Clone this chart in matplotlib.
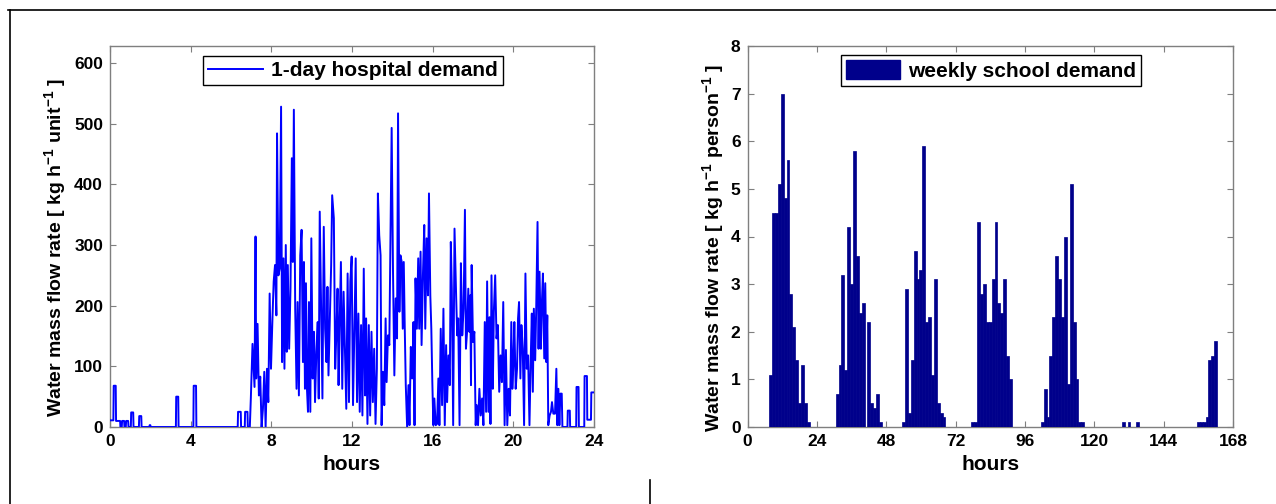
import matplotlib
matplotlib.use("Agg")
import matplotlib.pyplot as plt
from matplotlib.lines import Line2D
from matplotlib.patches import Patch
import numpy as np

plt.rcParams["font.family"] = ["Liberation Sans", "DejaVu Sans"]
plt.rcParams["font.weight"] = "bold"
plt.rcParams["mathtext.fontset"] = "custom"
plt.rcParams["mathtext.rm"] = "Liberation Sans:bold"
plt.rcParams["mathtext.bf"] = "Liberation Sans:bold"
plt.rcParams["mathtext.default"] = "bf"

# --- 1-day hospital demand, vertices (minutes, kg/h/unit) ---
hospital_min = [
    0, 10, 11, 17, 18, 30, 31, 35, 36, 42, 43, 47, 48, 54, 55, 62, 63, 69, 70, 86,
    87, 93, 94, 117, 118, 120, 121, 196, 197, 203, 204, 248, 249, 256, 257, 380,
    381, 389, 390, 401, 402, 409, 410, 416, 419, 424, 430, 433, 435, 439, 443, 447,
    451, 455, 459, 463, 467, 471, 475, 479, 483, 487, 491, 495, 497, 501, 505, 509,
    512, 516, 519, 523, 526, 529, 533, 537, 541, 544, 547, 551, 555, 558, 562, 566,
    570, 574, 577, 580, 583, 586, 589, 592, 596, 599, 603, 607, 610, 614, 618, 621,
    624, 628, 632, 636, 640, 644, 647, 650, 654, 658, 661, 666, 670, 674, 677, 680,
    683, 687, 691, 695, 699, 703, 707, 711, 715, 719, 723, 727, 731, 735, 739, 743,
    747, 751, 755, 759, 762, 766, 770, 774, 778, 782, 786, 790, 794, 797, 801, 805,
    808, 812, 816, 820, 823, 827, 831, 834, 838, 842, 846, 850, 854, 857, 861, 864,
    868, 871, 874, 877, 880, 884, 888, 891, 895, 899, 903, 906, 909, 913, 917, 920,
    924, 927, 931, 935, 938, 942, 946, 949, 953, 956, 959, 962, 965, 969, 973, 977,
    980, 984, 988, 992, 996, 1000, 1003, 1007, 1011, 1014, 1017, 1021, 1025, 1030,
    1033, 1036, 1040, 1044, 1048, 1052, 1056, 1059, 1062, 1066, 1069, 1072, 1074,
    1076, 1080, 1084, 1088, 1091, 1095, 1099, 1103, 1107, 1111, 1115, 1119, 1122,
    1126, 1129, 1132, 1135, 1139, 1142, 1146, 1150, 1154, 1158, 1162, 1166, 1170,
    1174, 1178, 1182, 1186, 1190, 1194, 1197, 1200, 1203, 1207, 1211, 1214, 1217,
    1221, 1224, 1228, 1232, 1236, 1240, 1244, 1248, 1252, 1255, 1258, 1261, 1265,
    1268, 1272, 1275, 1278, 1282, 1285, 1288, 1292, 1295, 1298, 1301, 1304, 1308,
    1312, 1315, 1319, 1324, 1328, 1331, 1334, 1337, 1340, 1344, 1346, 1361, 1362,
    1368, 1369, 1387, 1388, 1394, 1395, 1411, 1412, 1419, 1420, 1431, 1432, 1440,
]
hospital_flow = [
    11, 11, 68, 68, 10, 10, 0, 0, 10, 10, 0, 0, 10, 10, 0, 0, 24, 24, 0, 0,
    18, 18, 0, 0, 3, 3, 0, 0, 50, 50, 0, 0, 68, 68, 0, 0,
    25, 25, 0, 0, 25, 25, 0, 0, 47, 137, 66, 314, 80, 170, 52, 83,
    0, 30, 91, 0, 96, 41, 220, 96, 173, 240, 267, 184, 484, 250, 261, 528,
    107, 278, 96, 300, 124, 267, 129, 228, 443, 272, 523, 195, 63, 206, 52, 283,
    325, 107, 272, 63, 237, 63, 25, 206, 25, 311, 80, 157, 41, 124, 173, 47,
    355, 201, 47, 330, 162, 107, 231, 85, 173, 267, 382, 344, 96, 162, 228, 69,
    162, 272, 63, 223, 124, 30, 253, 41, 240, 281, 36, 162, 278, 41, 187, 25,
    168, 19, 261, 52, 179, 5, 168, 19, 157, 41, 129, 5, 96, 385, 316, 283,
    3, 91, 36, 179, 74, 151, 135, 292, 493, 256, 85, 212, 146, 517, 190, 283,
    272, 162, 272, 162, 69, 0, 69, 3, 132, 80, 173, 3, 245, 162, 278, 162,
    289, 135, 250, 333, 162, 311, 217, 385, 217, 162, 74, 3, 47, 3, 5, 80,
    3, 162, 36, 195, 3, 135, 41, 118, 69, 305, 228, 3, 327, 212,
    151, 179, 3, 270, 151, 195, 358, 129, 154, 228, 157, 217, 69,
    267, 140, 157, 3, 36, 3, 63, 19, 47, 3, 173, 25, 240,
    25, 181, 5, 250, 63, 190, 250, 146, 168, 58, 118, 74, 206,
    3, 127, 3, 63, 19, 173, 63, 102, 173, 63, 96, 179, 206,
    80, 168, 129, 3, 253, 96, 118, 3, 118, 187, 58, 195, 110,
    193, 338, 129, 256, 129, 206, 253, 113, 237, 107, 184, 3, 19,
    25, 41, 22, 22, 96, 3, 63, 3, 55, 55, 0, 0, 27,
    27, 0, 0, 66, 66, 0, 0, 84, 84, 12, 12, 57, 57,
]

# --- weekly school demand, hourly bars (hour, kg/h/person); other hours are zero ---
school_hour = [
    8, 9, 10, 11, 12, 13, 14, 15, 16, 17, 18, 19, 20, 21,
    31, 32, 33, 34, 35, 36, 37, 38, 39, 40, 42, 43, 44, 45, 46,
    54, 55, 56, 57, 58, 59, 60, 61, 62, 63, 64, 65, 66, 67, 68,
    78, 79, 80, 81, 82, 83, 84, 85, 86, 87, 88, 89, 90, 91,
    102, 103, 104, 105, 106, 107, 108, 109, 110, 111, 112, 113, 114, 115, 116,
    130, 132, 135, 156, 157, 158, 159, 160, 161, 162,
]
school_flow = [
    1.1, 4.5, 4.5, 5.1, 7.0, 4.8, 5.6, 2.8, 2.1, 1.4, 0.5, 1.3, 0.5, 0.1,
    0.7, 1.3, 3.2, 1.2, 4.2, 3.0, 5.8, 3.6, 2.4, 2.6, 2.2, 0.5, 0.4, 0.7, 0.1,
    0.1, 2.9, 0.3, 1.4, 3.7, 3.1, 3.3, 5.9, 2.2, 2.3, 1.1, 3.1, 0.5, 0.3, 0.2,
    0.1, 0.1, 4.3, 2.8, 3.0, 2.2, 2.2, 3.1, 4.3, 2.6, 2.4, 3.1, 1.5, 1.0,
    0.1, 0.8, 0.2, 1.5, 2.3, 3.6, 3.1, 2.3, 4.0, 0.9, 5.1, 2.2, 1.0, 0.1, 0.1,
    0.1, 0.1, 0.1, 0.1, 0.1, 0.1, 0.2, 1.4, 1.5, 1.8,
]

week_hours = np.arange(1, 169)
week_flow = np.zeros(168)
week_flow[np.array(school_hour) - 1] = school_flow

BLUE = "#0000FF"
NAVY = "#00008B"
GREY = "#7F7F7F"
LABEL_FS = 14
LEGEND_FS = 15


def style_axes(ax, label_x):
    for s in ax.spines.values():
        s.set_color(GREY)
        s.set_linewidth(1.0)
    ax.tick_params(direction="in", top=True, right=True, length=4, width=0.8,
                   color=GREY, labelcolor="black", labelsize=12.5, pad=5)
    ax.yaxis.set_label_coords(label_x, 0.47)


fig = plt.figure(figsize=(12.76, 5.04), dpi=100)

# left panel
ax1 = fig.add_axes([110 / 1276, 77 / 504, 484 / 1276, 381 / 504])
ax1.plot(np.array(hospital_min) / 60.0, hospital_flow, color=BLUE, lw=1.4,
         label="1-day hospital demand", zorder=3)
ax1.set_xlim(0, 24)
ax1.set_ylim(0, 628)
ax1.set_xticks(range(0, 25, 4))
ax1.set_yticks(range(0, 601, 100))
ax1.set_xlabel("hours", fontsize=LEGEND_FS, fontweight="bold", labelpad=4)
ax1.set_ylabel("Water mass flow rate [ kg h$^{-1}$ unit$^{-1}$ ]",
               fontsize=LABEL_FS, fontweight="bold")
style_axes(ax1, -0.086)
ax1.legend(loc="upper center", bbox_to_anchor=(0.502, 0.974), fancybox=False,
           edgecolor="black", framealpha=1, fontsize=LEGEND_FS, handlelength=2.6,
           borderpad=0.25, handletextpad=0.4, borderaxespad=0)

# right panel
ax2 = fig.add_axes([747.5 / 1276, 77 / 504, 485.5 / 1276, 381 / 504])
ax2.bar(week_hours, week_flow, width=1.0, color=NAVY, edgecolor=NAVY, linewidth=0.5,
        zorder=3)
ax2.set_xlim(0, 168)
ax2.set_ylim(0, 8)
ax2.set_xticks(range(0, 169, 24))
ax2.set_yticks(range(0, 9))
ax2.set_xlabel("hours", fontsize=LEGEND_FS, fontweight="bold", labelpad=4)
ax2.set_ylabel("Water mass flow rate [ kg h$^{-1}$ person$^{-1}$ ]",
               fontsize=LABEL_FS, fontweight="bold")
style_axes(ax2, -0.044)
ax2.legend(handles=[Patch(facecolor=NAVY, edgecolor=NAVY, label="weekly school demand")],
           loc="upper center", bbox_to_anchor=(0.5015, 0.976), fancybox=False,
           edgecolor="black", framealpha=1, fontsize=LEGEND_FS, handlelength=2.6,
           handleheight=1.0, borderpad=0.25, handletextpad=0.4, borderaxespad=0)

# page/table border lines around the figure
fig.add_artist(Line2D([8 / 1276, 1.0], [1 - 10 / 504] * 2, transform=fig.transFigure,
                      color="black", lw=1.2))
fig.add_artist(Line2D([10 / 1276] * 2, [0, 1 - 10 / 504], transform=fig.transFigure,
                      color="black", lw=1.2))
fig.add_artist(Line2D([650 / 1276] * 2, [0, 24 / 504], transform=fig.transFigure,
                      color="black", lw=1.2))

fig.savefig("out.png", dpi=100)
